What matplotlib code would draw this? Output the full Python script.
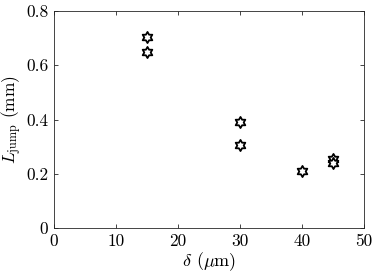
import numpy as np
import matplotlib
matplotlib.use("Agg")
import matplotlib.pyplot as plt
from matplotlib.path import Path

plt.rcParams['font.family'] = 'serif'
plt.rcParams['font.serif'] = ['cmr10']
plt.rcParams['mathtext.fontset'] = 'cm'
plt.rcParams['axes.formatter.use_mathtext'] = True

delta = [15, 15, 30, 30, 40, 45, 45]
L_jump = [0.705, 0.65, 0.39, 0.305, 0.21, 0.255, 0.24]
xticks = [0, 10, 20, 30, 40, 50]
yticks = [0, 0.2, 0.4, 0.6, 0.8]

# hexagram marker
ang_out = np.deg2rad(90 + 60 * np.arange(6))
ang_in = np.deg2rad(120 + 60 * np.arange(6))
r_in = 1 / np.sqrt(3)
verts = []
for ao, ai in zip(ang_out, ang_in):
    verts.append((np.cos(ao), np.sin(ao)))
    verts.append((r_in * np.cos(ai), r_in * np.sin(ai)))
verts.append(verts[0])
codes = [Path.MOVETO] + [Path.LINETO] * 11 + [Path.CLOSEPOLY]
hexagram = Path(verts, codes)

fig = plt.figure(figsize=(3.74, 2.80), dpi=100)
ax = fig.add_axes([54/374, 1 - 228/280, (364-54)/374, (228-11)/280])
ax.plot(delta, L_jump, linestyle='none', marker=hexagram, markersize=8,
        markerfacecolor='white', markeredgecolor='black', markeredgewidth=1.3)
ax.set_xlim(0, 50)
ax.set_ylim(0, 0.8)
ax.set_xticks(xticks)
ax.set_yticks(yticks)
ax.set_xticklabels([str(v) for v in xticks])
ax.set_yticklabels(['0', '0.2', '0.4', '0.6', '0.8'])
gray = '#262626'
for s in ax.spines.values():
    s.set_color(gray)
    s.set_linewidth(0.6)
ax.tick_params(direction='in', top=True, right=True, length=3, width=0.6,
               colors=gray, labelsize=12.5, labelcolor='black', pad=4)
ax.set_xlabel(r'$\delta$ ($\mu$m)', fontsize=13, labelpad=1)
ax.set_ylabel(r'$L_{\rm jump}$ (mm)', fontsize=12.5, va='center')
ax.yaxis.set_label_coords((12 - 54) / 310, 0.5)
fig.savefig('out.png', dpi=100)
